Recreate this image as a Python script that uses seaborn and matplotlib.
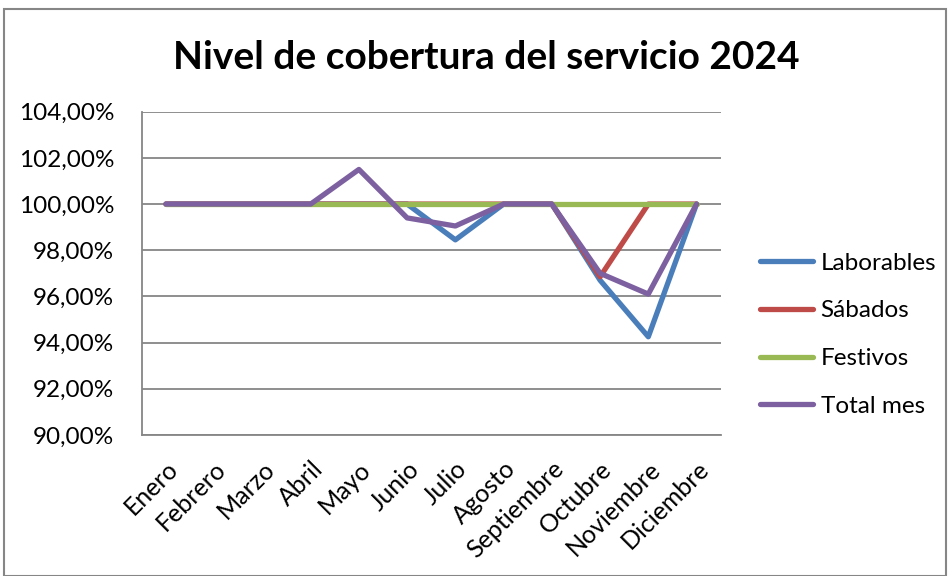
import matplotlib.pyplot as plt
import matplotlib.ticker as mticker
import pandas as pd
import seaborn as sns

meses = ["Enero", "Febrero", "Marzo", "Abril", "Mayo", "Junio", "Julio",
         "Agosto", "Septiembre", "Octubre", "Noviembre", "Diciembre"]
laborables = [100, 100, 100, 100, 100, 100, 98.45, 100, 100, 96.7, 94.25, 100]
sabados = [100, 100, 100, 100, 100, 100, 100, 100, 100, 96.85, 100, 100]
festivos = [100, 100, 100, 100, 100, 100, 100, 100, 100, 100, 100, 100]
total_mes = [100, 100, 100, 100, 101.5, 99.4, 99.05, 100, 100, 97.0, 96.1, 100]

series = {"Laborables": laborables, "Sábados": sabados,
          "Festivos": festivos, "Total mes": total_mes}
colores = ["#4a7ebb", "#be4b48", "#98b954", "#7d60a0"]

rows = []
for nombre, vals in series.items():
    for i, v in enumerate(vals):
        rows.append({"pos": i, "mes": meses[i], "serie": nombre, "valor": v})
df = pd.DataFrame(rows)

sns.set_style("white")
plt.rcParams["font.family"] = ["Lato", "DejaVu Sans"]
plt.rcParams["text.color"] = "black"

fig = plt.figure(figsize=(9.52, 5.76), dpi=100)
ax = fig.add_axes([0.149, 0.245, 0.608, 0.561])

sns.lineplot(data=df, x="pos", y="valor", hue="serie", palette=colores,
             linewidth=3.8, ax=ax, legend=True)

ax.set_xlim(-0.5, 11.5)
ax.set_ylim(90, 104)
ax.set_yticks(range(90, 105, 2))
ax.yaxis.set_major_formatter(
    mticker.FuncFormatter(lambda v, p: f"{v:.2f}%".replace(".", ",")))
ax.set_xticks(range(12))
ax.set_xticklabels(meses, rotation=45, ha="right", rotation_mode="anchor")
ax.set_xticks([x - 0.5 for x in range(13)], minor=True)
ax.tick_params(axis="x", which="major", length=0, labelsize=18, pad=16,
               labelcolor="black")
ax.tick_params(axis="x", which="minor", length=7, color="#868686", width=1.2)
ax.tick_params(axis="y", length=8, color="#868686", width=1.2, labelsize=17.5,
               labelcolor="black", pad=12)
ax.set_xlabel("")
ax.set_ylabel("")

ax.grid(axis="y", color="#868686", linewidth=1.3)
ax.set_axisbelow(True)
for s in ["top", "right"]:
    ax.spines[s].set_visible(False)
for s in ["left", "bottom"]:
    ax.spines[s].set_color("#868686")
    ax.spines[s].set_linewidth(1.3)

leg = ax.legend(loc="center left", bbox_to_anchor=(1.03, 0.31), frameon=False,
                fontsize=17.5, handlelength=2.2, labelspacing=1.1,
                handletextpad=0.3)
for line in leg.get_lines():
    line.set_linewidth(3.8)
    line.set_solid_capstyle("round")

fig.suptitle("Nivel de cobertura del servicio 2024", fontsize=28,
             fontweight="bold", x=0.511, y=0.93, color="black")

fig.patches.append(plt.Rectangle((0.004, 0.0), 0.99, 0.985, fill=False,
                                 edgecolor="#868686", linewidth=1.5,
                                 transform=fig.transFigure))

fig.savefig("out.png", dpi=100)
